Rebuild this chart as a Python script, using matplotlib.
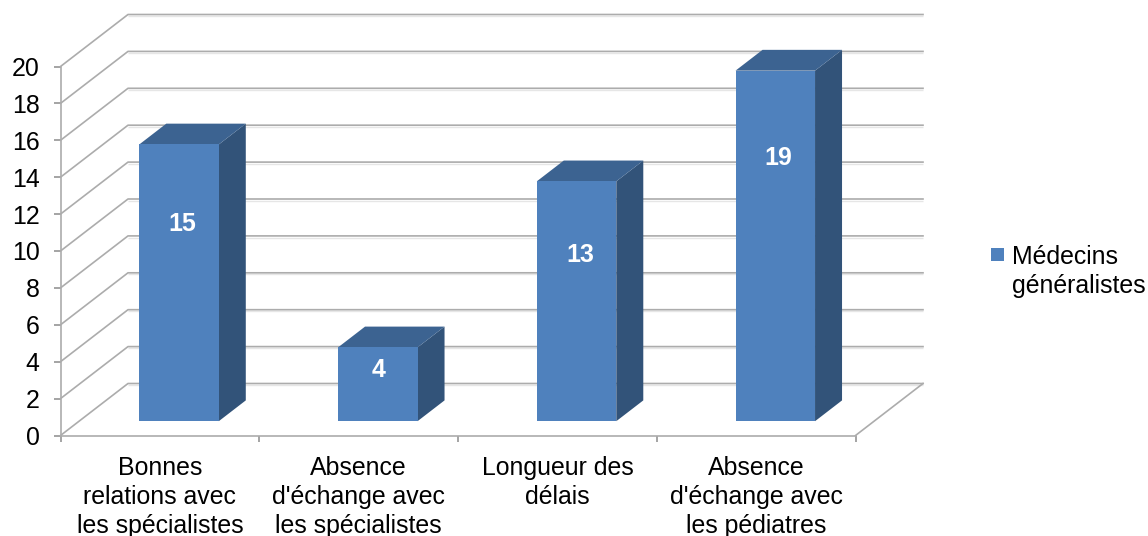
import matplotlib
matplotlib.use("Agg")
import matplotlib.pyplot as plt
from matplotlib.patches import Polygon, Rectangle

# Survey counts per item
categories = [
    "Bonnes\nrelations avec\nles spécialistes",
    "Absence\nd'échange avec\nles spécialistes",
    "Longueur des\ndélais",
    "Absence\nd'échange avec\nles pédiatres",
]
values = [15, 4, 13, 19]
series_name = "Médecins\ngénéralistes"
y_ticks = list(range(0, 21, 2))

W, H = 1148, 536
plt.rcParams["font.family"] = ["Liberation Sans", "DejaVu Sans"]
FS = 17.9
GRID = "#ACACAC"
FRONT, TOP, SIDE = "#4F81BD", "#3C6391", "#325379"

fig = plt.figure(figsize=(W / 100, H / 100), dpi=100)
ax = fig.add_axes([60.5 / W, (H - 435.5) / H, 795 / W, 369 / H])
ax.set_xlim(0, len(categories))
ax.set_ylim(0, 20)

# Depth of the oblique projection, in data units
DX, DY = 67.5 / 198.75, 52 / 18.45


def proj(x, y, d):
    """Shift a point (x, y) backwards by fraction d of the chart depth."""
    return x + DX * d, y + DY * d


# Back wall gridlines, their soft shadow, and the floor edge
for v in y_ticks:
    xa, ya = proj(0, v, 0)
    xb, yb = proj(0, v, 1)
    xc, yc = proj(len(categories), v, 1)
    ax.plot([xb, xc], [yb - 0.09, yc - 0.09], color="#E6E6E6", lw=1.0,
            clip_on=False, zorder=1, solid_capstyle="butt")
    ax.plot([xa, xb, xc], [ya, yb, yc], color=GRID, lw=1.2, clip_on=False, zorder=2)
xr, yr = proj(len(categories), 0, 1)
ax.plot([len(categories), xr], [0, yr], color=GRID, lw=1.2, clip_on=False, zorder=2)

# Boxes standing part-way back on the floor
BAR_W = 0.4
D0, D1 = 0.275, 0.675
label_height = [0.714, 0.70, 0.695, 0.75]
label_shift = [0.012, 0.0, 0.013, 0.01]
for i, v in enumerate(values):
    x0 = i + 0.5 - BAR_W / 2 + 0.003
    x1 = i + 0.5 + BAR_W / 2 + 0.003
    a = proj(x0, 0, D0)
    b = proj(x1, 0, D0)
    c = proj(x1, v, D0)
    d = proj(x0, v, D0)
    e = proj(x1, 0, D1)
    f = proj(x1, v, D1)
    g = proj(x0, v, D1)
    ax.add_patch(Polygon([b, e, f, c], closed=True, fc=SIDE, ec="none", clip_on=False, zorder=3))
    ax.add_patch(Polygon([d, c, f, g], closed=True, fc=TOP, ec="none", clip_on=False, zorder=3))
    ax.add_patch(Polygon([a, b, c, d], closed=True, fc=FRONT, ec="none", clip_on=False, zorder=4))
    ax.text((a[0] + b[0]) / 2 + 0.005 + label_shift[i], a[1] + v * label_height[i], str(v), color="white",
            fontweight="bold", fontsize=FS, ha="center", va="center", zorder=5)

# Axes: tick marks on category boundaries, labels centred in each slot
for s in ("top", "right"):
    ax.spines[s].set_visible(False)
for s in ("left", "bottom"):
    ax.spines[s].set_color(GRID)
    ax.spines[s].set_linewidth(1.2)
ax.patch.set_visible(False)
ax.set_yticks(y_ticks)
ax.set_xticks(range(len(categories) + 1))
ax.set_xticklabels([])
ax.set_xticks([i + 0.5 for i in range(len(categories))], minor=True)
ax.set_xticklabels(categories, minor=True, fontsize=FS, linespacing=1.27)
ax.tick_params(axis="y", length=5, width=1.1, color="#8C8C8C", labelsize=FS, pad=10, labelcolor="black")
ax.tick_params(axis="x", which="major", length=4.5, width=1.1, color="#8C8C8C")
ax.tick_params(axis="x", which="minor", length=0, pad=14.5, labelcolor="black")

# Series key
fig.add_artist(Rectangle((991 / W, (H - 261) / H), 13 / W, 13 / H, transform=fig.transFigure,
                         fc=FRONT, ec="none"))
fig.text(1012 / W, (H - 245) / H, series_name, fontsize=FS, ha="left", va="top", linespacing=1.27)

fig.savefig("out.png", dpi=100)
